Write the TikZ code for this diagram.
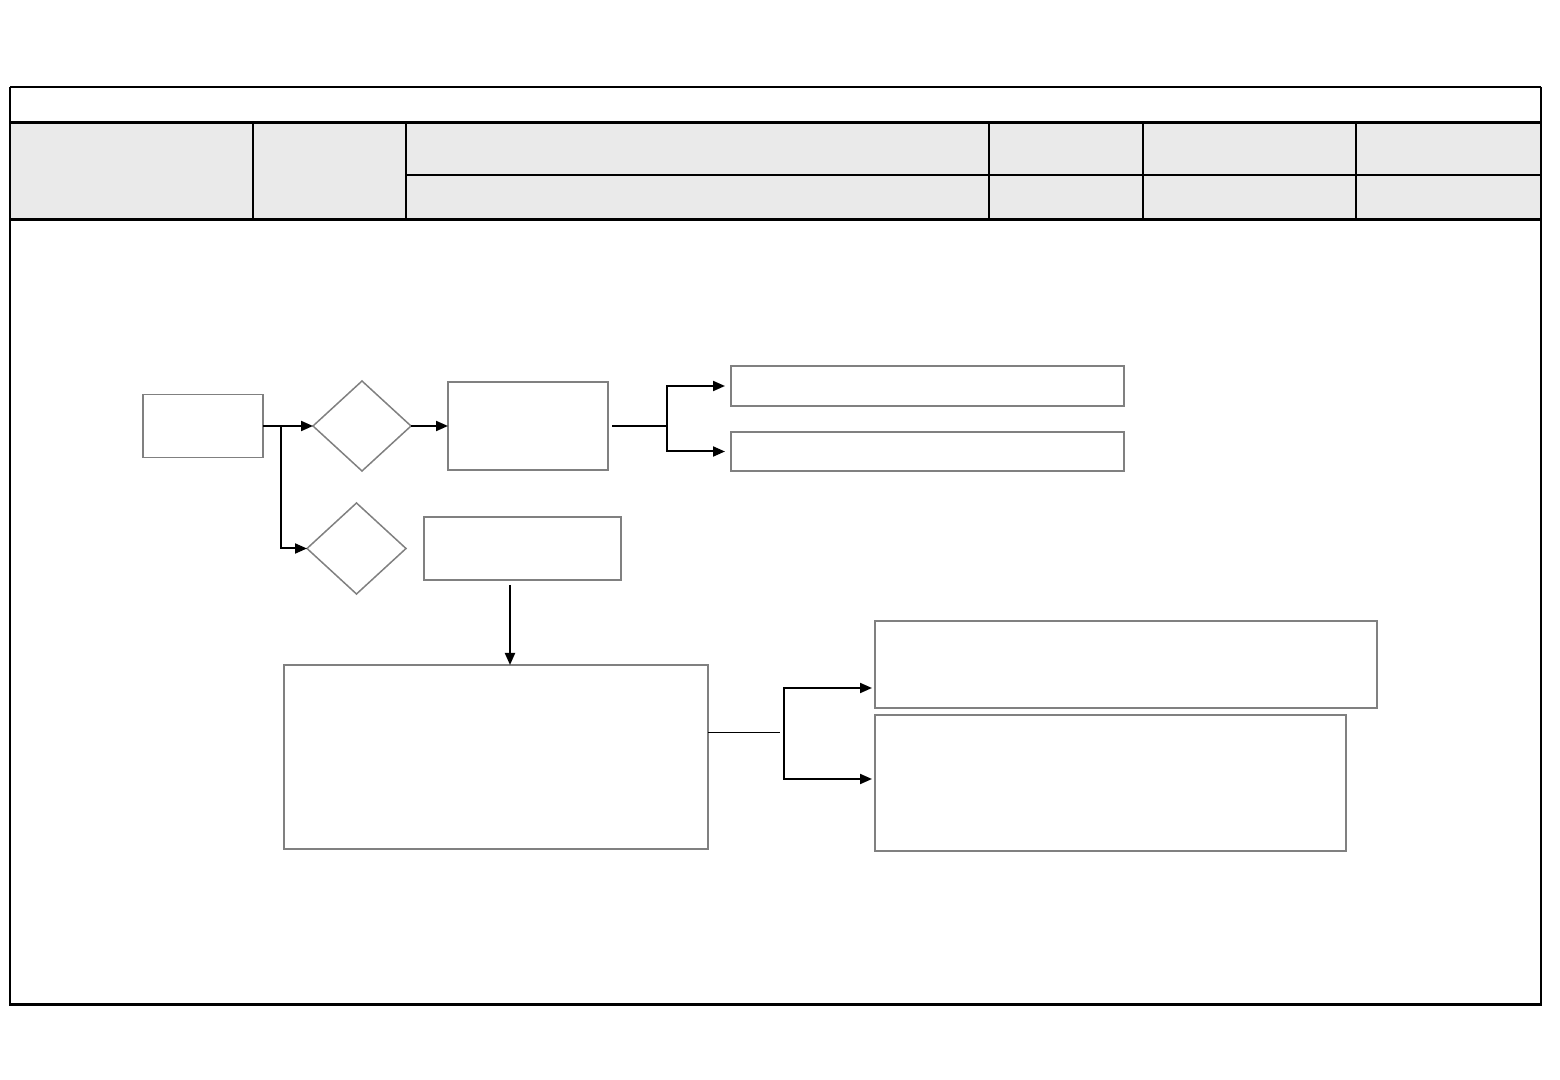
\documentclass[tikz,border=0pt]{standalone}
\usepackage{tikz}
\usetikzlibrary{arrows.meta, shapes.geometric, positioning, calc}
\usepackage{xcolor}
\definecolor{HeadGray}{RGB}{234,234,234}
\definecolor{EdgeGray}{RGB}{128,128,128}

\tikzset{
  procbox/.style={draw=EdgeGray, line width=0.75pt, inner sep=0pt, outer sep=0pt},
  choice/.style={diamond, draw=EdgeGray, line width=0.75pt, inner sep=0pt, outer sep=0pt,
                 minimum width=49pt, minimum height=45pt},
  flow/.style={draw=black, line width=1pt, -{Triangle[length=6pt, width=5pt]}},
  link/.style={draw=black, line width=1pt},
  hairline/.style={draw=black, line width=0.5pt},
  rule/.style={draw=black, line width=1pt},
  heavyrule/.style={draw=black, line width=1.5pt}
}

\begin{document}
\begin{tikzpicture}[x=0.5pt, y=-0.5pt]
  \useasboundingbox (0,0) rectangle (1560,1080);

  % sheet frame and header
  \fill[HeadGray] (11,124) rectangle (1540,219);
  \draw[rule] (10,87) -- (1541,87);
  \draw[rule] (10,87) -- (10,1004);
  \draw[rule] (1541,87) -- (1541,1004);
  \draw[heavyrule] (9,1004) -- (1542,1004);
  \draw[heavyrule] (10,123) -- (1541,123);
  \draw[heavyrule] (10,220) -- (1541,220);
  \draw[rule] (406,175) -- (1541,175);
  \foreach \cx in {253,406,989,1143,1356}
    \draw[rule] (\cx,124) -- (\cx,220);

  % upper row
  \node[procbox, minimum width=60pt, minimum height=31.5pt] (start) at (203,426) {};
  \node[choice] (check1) at (362,426) {};
  \node[procbox, minimum width=80pt, minimum height=44pt] (step1) at (528,426) {};
  \node[procbox, minimum width=196.5pt, minimum height=20pt] (out1) at (927.5,386) {};
  \node[procbox, minimum width=196.5pt, minimum height=19.5pt] (out2) at (927.5,451.5) {};

  % lower branch
  \node[choice, minimum width=49.5pt, minimum height=45.5pt] (check2) at (356.5,548.5) {};
  \node[procbox, minimum width=98.5pt, minimum height=31.5pt] (step2) at (522.5,548.5) {};
  \node[procbox, minimum width=212pt, minimum height=92pt] (detail) at (496,757) {};
  \node[procbox, minimum width=251pt, minimum height=43.5pt] (res1) at (1126,664.5) {};
  \node[procbox, minimum width=235.5pt, minimum height=68pt] (res2) at (1110.5,783) {};

  % connectors
  \coordinate (split) at (281,426);
  \coordinate (fork1) at (667,426);
  \coordinate (drop) at (510,585);
  \coordinate (fork2) at (784,733);

  \draw[flow] (start.east) -- (check1.west);
  \draw[flow] (split) |- (check2.west);
  \draw[flow] (check1.east) -- (step1.west);

  \draw[link] ([xshift=2pt]step1.east) -- (fork1);
  \draw[flow] (fork1) |- ([xshift=-3pt]out1.west);
  \draw[flow] (fork1) |- ([xshift=-3pt]out2.west);

  \draw[flow] (drop) -- (drop |- detail.north);

  \draw[hairline] (detail.east |- fork2) -- ([xshift=-2pt]fork2);
  \draw[flow] (fork2) |- ([xshift=-1.5pt]res1.west |- 0,688);
  \draw[flow] (fork2) |- ([xshift=-1.5pt]res2.west |- 0,779);
\end{tikzpicture}
\end{document}
